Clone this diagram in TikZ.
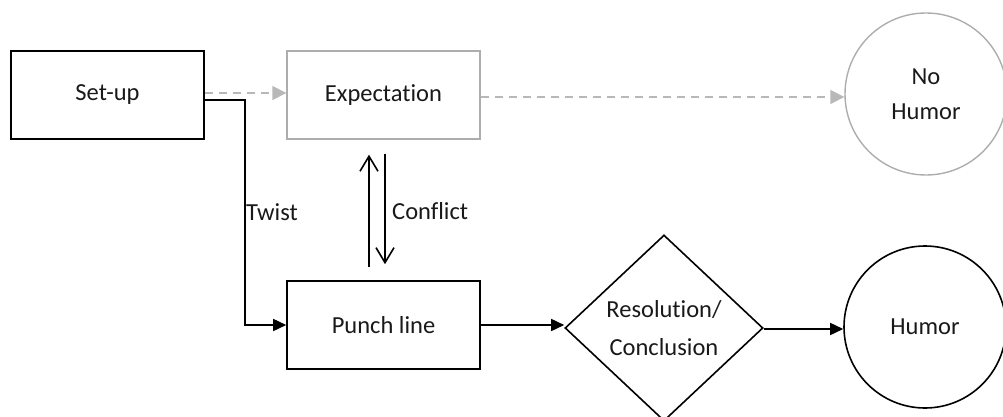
\documentclass[tikz,border=0pt]{standalone}
\usepackage{fontspec}
\setmainfont[Ligatures={NoCommon}]{Carlito}
\usetikzlibrary{shapes.geometric,arrows.meta}
\definecolor{lightln}{gray}{0.68}
\definecolor{dashln}{gray}{0.72}
\definecolor{txt}{gray}{0.1}
\tikzset{
  base/.style={font=\fontsize{24.5}{35}\selectfont, text=txt, align=center, inner sep=0pt},
  box/.style={base, draw=black, line width=1.6pt, minimum width=193pt, minimum height=88pt},
  greybox/.style={base, draw=lightln, line width=1.4pt, minimum width=193pt, minimum height=88pt},
  endcircle/.style={base, circle, draw=black, line width=1.6pt, minimum size=162pt},
  greycircle/.style={base, circle, draw=lightln, line width=1.4pt, minimum size=162pt},
  decision/.style={base, diamond, draw=black, line width=1.6pt, minimum width=198pt, minimum height=186pt},
  flow/.style={draw=black, line width=1.6pt, -{Triangle[length=13pt,width=12pt]}},
  greyflow/.style={draw=dashln, line width=1.6pt, dash pattern=on 8pt off 6pt, -{Triangle[length=14pt,width=14pt]}},
  barb/.style={draw=black, line width=1.6pt, -{Straight Barb[length=15pt,width=18pt]}},
  lbl/.style={base, anchor=west}
}
\begin{document}
\begin{tikzpicture}[x=1pt,y=-1pt]
\useasboundingbox (0,0) rectangle (1003,417);
\clip (0,0) rectangle (1003,417);
\node[box] (setup) at (107.5,95) {Set-up};
\node[greybox] (exp) at (383.5,95) {Expectation};
\node[greycircle] (nohumor) at (926,94) {No\\Humor};
\node[box] (punch) at (383.5,325) {Punch line};
\node[decision, font=\fontsize{24.5}{38}\selectfont] (res) at (664,328) {Resolution/\\Conclusion};
\node[endcircle] (humor) at (925,327) {Humor};
% dashed expectation flows
\draw[greyflow] ([yshift=2pt]setup.east) -- ([yshift=2pt]exp.west);
\draw[greyflow] ([yshift=-2pt]exp.east) -- ([yshift=-2pt]exp.east -| nohumor.west);
% twist
\draw[flow] ([yshift=-5pt]setup.east) -- ++(40,0) |- (punch.west);
\node[lbl] (twist) at (246,212) {Twist};
% conflict
\draw[barb] ([xshift=-14.5pt,yshift=13pt]punch.north) -- ([xshift=-14.5pt,yshift=-15pt]exp.south);
\draw[barb] ([xshift=1.5pt,yshift=-14pt]exp.south) -- ([xshift=1.5pt,yshift=16pt]punch.north);
\node[lbl] (conflict) at (392,211) {Conflict};
% main flow
\draw[flow] (punch.east) -- (punch.east -| res.west);
\draw[flow] ([yshift=-1pt]res.east) -- ([yshift=-1pt]res.east -| humor.west);
\end{tikzpicture}
\end{document}
